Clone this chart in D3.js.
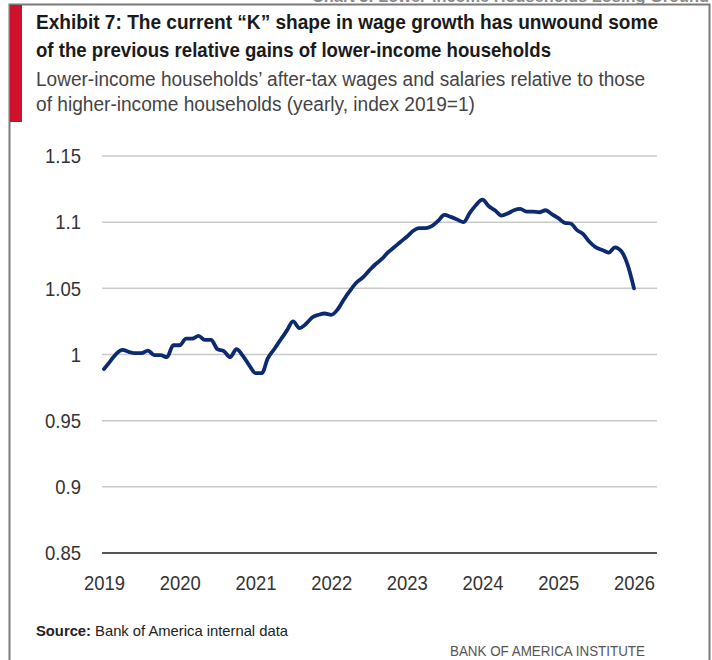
<!DOCTYPE html>
<html>
<head>
<meta charset="utf-8">
<script src="https://cdn.jsdelivr.net/npm/d3@7"></script>
<style>
  body { margin: 0; background: #fff; }
  svg { display: block; font-family: "Liberation Sans Narrow", "Liberation Sans", sans-serif; }
</style>
</head>
<body>
<div id="chart"></div>
<script>
// monthly index, Jan 2019 .. Jan 2026
const startMonth = new Date(2019, 0, 1);
const values = [
  0.989, 0.995, 1.0005, 1.0035, 1.002, 1.001, 1.001, 1.003, 0.9995, 0.9995, 0.998, 1.007,
  1.007, 1.012, 1.012, 1.014, 1.011, 1.011, 1.004, 1.0025, 0.998, 1.004, 0.999, 0.992,
  0.986, 0.986, 0.997, 1.004, 1.011, 1.018, 1.025, 1.020, 1.023, 1.028, 1.030, 1.031,
  1.030, 1.034, 1.041, 1.048, 1.054, 1.058, 1.063, 1.068, 1.072, 1.077, 1.081, 1.085,
  1.089, 1.0935, 1.0955, 1.0955, 1.097, 1.101, 1.1055, 1.104, 1.102, 1.100, 1.107, 1.113,
  1.117, 1.112, 1.109, 1.105, 1.1065, 1.109, 1.110, 1.108, 1.108, 1.1075, 1.109, 1.106,
  1.103, 1.0995, 1.099, 1.094, 1.091, 1.085, 1.081, 1.079, 1.077, 1.081, 1.078, 1.068,
  1.050
];
const yearTicks = [2019, 2020, 2021, 2022, 2023, 2024, 2025, 2026];
const yTicks = [0.85, 0.9, 0.95, 1, 1.05, 1.1, 1.15];

const data = values.map((v, i) => ({ date: d3.timeMonth.offset(startMonth, i), value: v }));

const width = 712, height = 660;
const svg = d3.select('#chart').append('svg')
  .attr('width', width)
  .attr('height', height);

svg.append('rect').attr('width', width).attr('height', height).attr('fill', '#fff');

// clipped header of the page above
svg.append('text')
  .attr('x', 312).attr('y', 1.5)
  .attr('font-size', 17).attr('font-weight', 'bold')
  .attr('fill', '#8a8a8a')
  .attr('textLength', 397).attr('lengthAdjust', 'spacingAndGlyphs')
  .text('Chart 3: Lower-income Households Losing Ground');

// frame
svg.append('path')
  .attr('d', 'M9.5,660 L9.5,4.5 L709.5,4.5 L709.5,660')
  .attr('fill', 'none')
  .attr('stroke', '#7a7a7a')
  .attr('stroke-width', 2);

// red accent bar
svg.append('rect')
  .attr('x', 10).attr('y', 5).attr('width', 12).attr('height', 117)
  .attr('fill', '#d0112b');

// titles
const title = [
  { t: 'Exhibit 7: The current \u201CK\u201D shape in wage growth has unwound some', y: 29, w: 622 },
  { t: 'of the previous relative gains of lower-income households', y: 57, w: 515 }
];
title.forEach(d => {
  svg.append('text')
    .attr('x', 36).attr('y', d.y)
    .attr('font-size', 21).attr('font-weight', 'bold').attr('fill', '#1a1a1a')
    .attr('textLength', d.w).attr('lengthAdjust', 'spacingAndGlyphs')
    .text(d.t);
});
const subtitle = [
  { t: 'Lower-income households\u2019 after-tax wages and salaries relative to those', y: 86, w: 609 },
  { t: 'of higher-income households (yearly, index 2019=1)', y: 111, w: 439 }
];
subtitle.forEach(d => {
  svg.append('text')
    .attr('x', 36).attr('y', d.y)
    .attr('font-size', 20).attr('fill', '#444')
    .attr('textLength', d.w).attr('lengthAdjust', 'spacingAndGlyphs')
    .text(d.t);
});

// scales
const x = d3.scaleTime()
  .domain([new Date(2019, 0, 1), new Date(2026, 0, 1)])
  .range([104, 634]);
const y = d3.scaleLinear()
  .domain([0.85, 1.15])
  .range([553, 156]);

// gridlines
svg.append('g')
  .selectAll('line')
  .data(yTicks.filter(t => t > 0.85))
  .join('line')
  .attr('x1', 102).attr('x2', 657)
  .attr('y1', d => y(d)).attr('y2', d => y(d))
  .attr('stroke', '#c9c9c9')
  .attr('stroke-width', 1.5);

// baseline
svg.append('line')
  .attr('x1', 102).attr('x2', 657)
  .attr('y1', y(0.85)).attr('y2', y(0.85))
  .attr('stroke', '#555')
  .attr('stroke-width', 2);

// y axis labels
const yAxis = d3.axisLeft(y)
  .tickValues(yTicks)
  .tickSize(0)
  .tickPadding(0)
  .tickFormat(d => String(+d.toFixed(2)));
const gy = svg.append('g').attr('transform', 'translate(81,0)').call(yAxis);
gy.select('.domain').remove();
gy.selectAll('text')
  .attr('font-size', 21)
  .attr('font-family', '"Liberation Sans Narrow", "Liberation Sans", sans-serif')
  .attr('fill', '#333')
  .attr('textLength', function () { return this.getComputedTextLength() * 0.88; })
  .attr('lengthAdjust', 'spacingAndGlyphs');

// x axis labels
const xAxis = d3.axisBottom(x)
  .tickValues(yearTicks.map(yr => new Date(yr, 0, 1)))
  .tickSize(0)
  .tickPadding(0)
  .tickFormat(d3.timeFormat('%Y'));
const gx = svg.append('g').attr('transform', 'translate(0,575)').call(xAxis);
gx.select('.domain').remove();
gx.selectAll('text')
  .attr('font-size', 21)
  .attr('font-family', '"Liberation Sans Narrow", "Liberation Sans", sans-serif')
  .attr('fill', '#333')
  .attr('textLength', 41)
  .attr('lengthAdjust', 'spacingAndGlyphs');

// series line
const line = d3.line()
  .x(d => x(d.date))
  .y(d => y(d.value))
  .curve(d3.curveMonotoneX);

svg.append('path')
  .datum(data)
  .attr('d', line)
  .attr('fill', 'none')
  .attr('stroke', '#0b2a70')
  .attr('stroke-width', 3.8)
  .attr('stroke-linejoin', 'round')
  .attr('stroke-linecap', 'round');

// footer
const src = svg.append('text').attr('x', 36).attr('y', 636).attr('font-size', 14.5).attr('fill', '#222')
  .attr('textLength', 252).attr('lengthAdjust', 'spacingAndGlyphs');
src.append('tspan').attr('font-weight', 'bold').text('Source:');
src.append('tspan').text(' Bank of America internal data');

svg.append('text')
  .attr('x', 645).attr('y', 656)
  .attr('text-anchor', 'end')
  .attr('font-size', 15)
  .attr('fill', '#555')
  .attr('textLength', 195).attr('lengthAdjust', 'spacingAndGlyphs')
  .text('BANK OF AMERICA INSTITUTE');
</script>
</body>
</html>
